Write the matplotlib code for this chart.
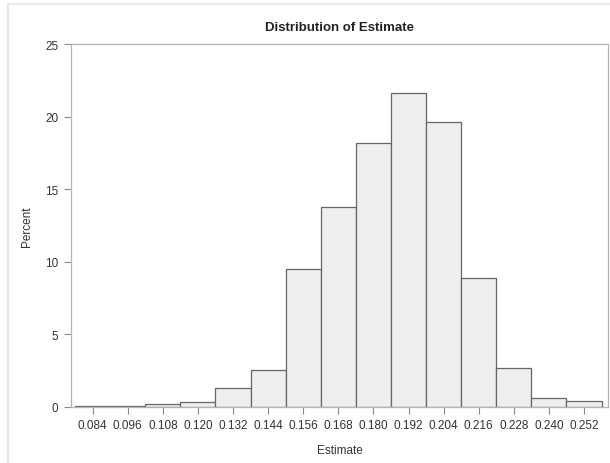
import matplotlib
matplotlib.use("Agg")
import matplotlib.pyplot as plt
from matplotlib.patches import Rectangle

# bin midpoints and percent per bin
mids = [0.084, 0.096, 0.108, 0.120, 0.132, 0.144, 0.156, 0.168,
        0.180, 0.192, 0.204, 0.216, 0.228, 0.240, 0.252]
pct = [0.05, 0.05, 0.18, 0.36, 1.3, 2.56, 9.5, 13.8,
       18.2, 21.6, 19.6, 8.9, 2.7, 0.6, 0.4]
tick_labels = ["%.3f" % m for m in mids]
bin_w = 0.012

plt.rcParams['font.family'] = ['Liberation Sans', 'DejaVu Sans']

fig = plt.figure(figsize=(6.1, 4.64), dpi=100)
# light outer frame like the SAS graph border
fig.patches.append(Rectangle((8 / 610, -0.05), 1.1, 1 - 5 / 464 + 0.05,
                             transform=fig.transFigure, fill=False,
                             edgecolor='#e4e4e4', linewidth=1.2))

ax = fig.add_axes([71 / 610, 56 / 464, 537 / 610, 363 / 464])
ax.bar(mids, pct, width=bin_w, color='#eeeeee', edgecolor='#666666',
       linewidth=0.9, zorder=2)

ax.set_xlim(0.0766, 0.2602)
ax.set_ylim(0, 25)
ax.set_xticks(mids)
ax.set_xticklabels(tick_labels)
ax.set_yticks([0, 5, 10, 15, 20, 25])

for s in ax.spines.values():
    s.set_color('#b4b4b4')
    s.set_linewidth(0.9)
ax.tick_params(axis='both', colors='#8a8a8a', length=5, width=0.8,
               labelsize=8.5, labelcolor='#333333', pad=4)

ax.set_xlabel('Estimate', fontsize=8.5, color='#333333', labelpad=9)
ax.set_ylabel('Percent', fontsize=8.5, color='#333333', labelpad=9)
ax.set_title('Distribution of Estimate', fontsize=9.5, fontweight='bold',
             color='#222222', pad=10)

fig.savefig('out.png', dpi=100)
